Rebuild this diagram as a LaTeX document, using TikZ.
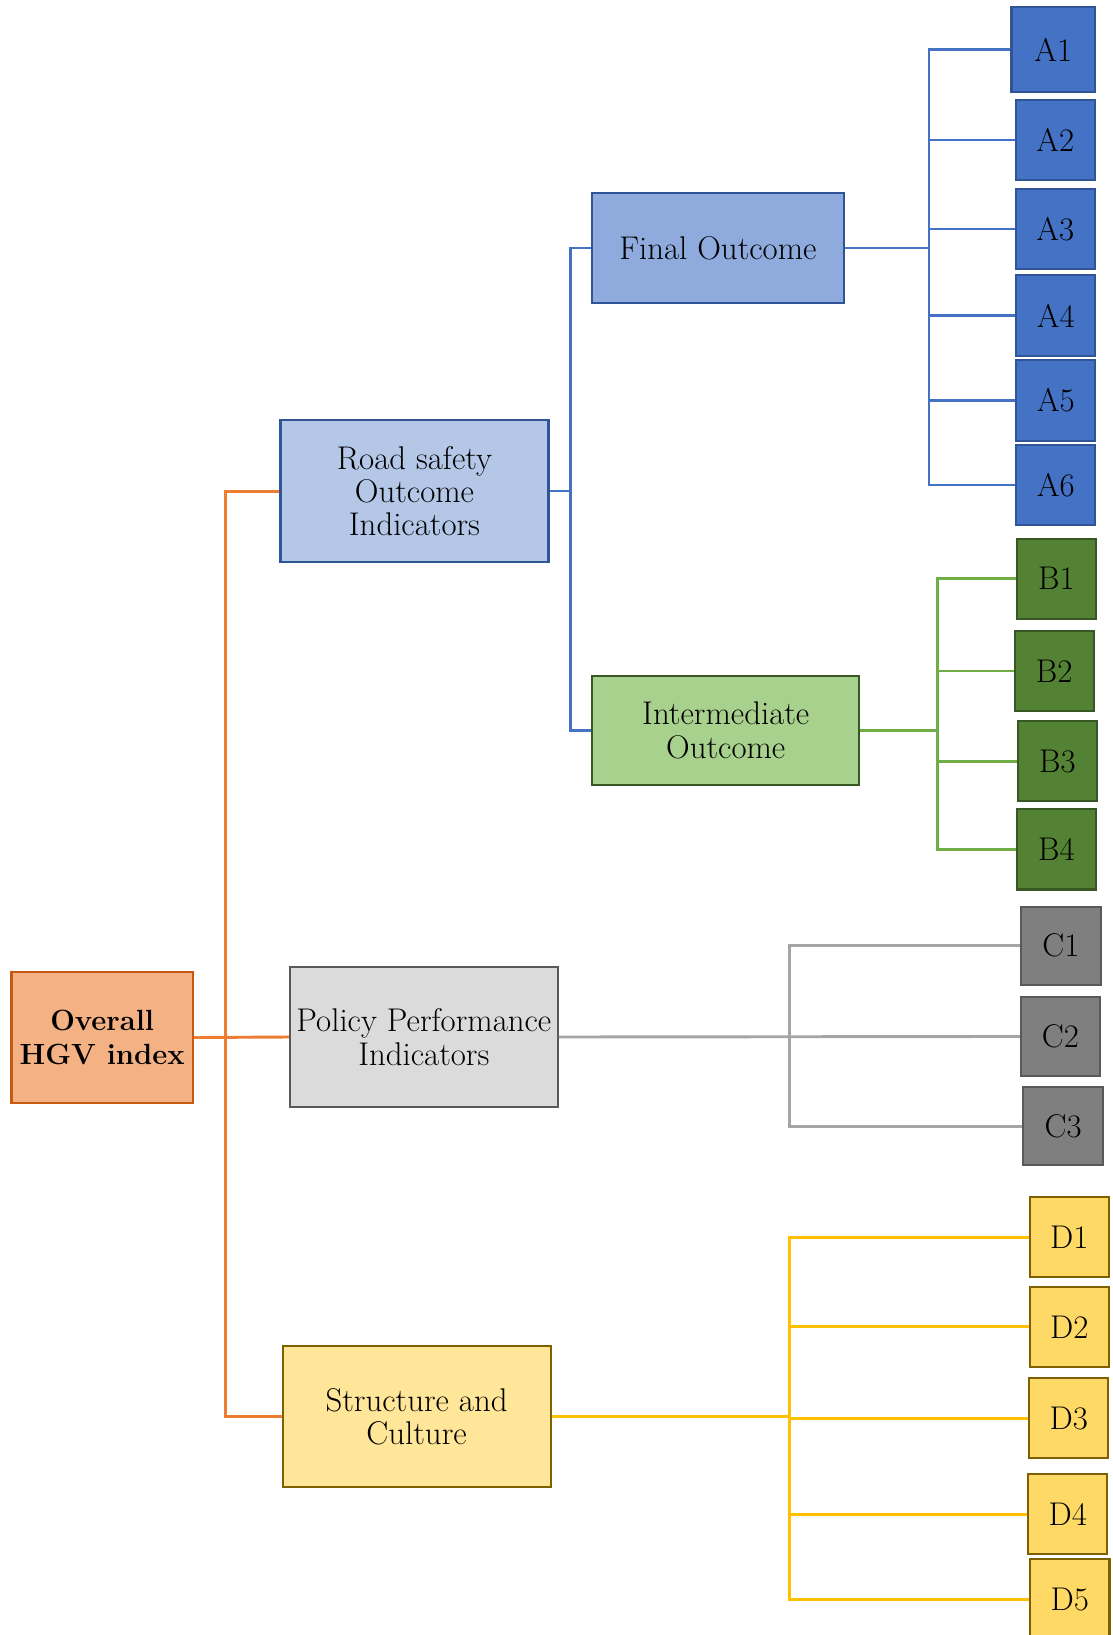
\documentclass[tikz,border=0pt]{standalone}
\usepackage{fontspec}
\definecolor{orangeL}{HTML}{ED7D31}
\definecolor{blueL}{HTML}{4472C4}
\definecolor{greenL}{HTML}{70AD47}
\definecolor{grayL}{HTML}{A5A5A5}
\definecolor{yellowL}{HTML}{FFC000}
\definecolor{ovF}{HTML}{F4B183}
\definecolor{ovD}{HTML}{C55A11}
\definecolor{rsF}{HTML}{B4C7E7}
\definecolor{blD}{HTML}{2F5597}
\definecolor{psF}{HTML}{DBDBDB}
\definecolor{gyD}{HTML}{595959}
\definecolor{scF}{HTML}{FFE699}
\definecolor{ylD}{HTML}{7F6000}
\definecolor{foF}{HTML}{8FAADC}
\definecolor{ioF}{HTML}{A9D18E}
\definecolor{grD}{HTML}{385723}
\definecolor{aF}{HTML}{4472C4}
\definecolor{bF}{HTML}{548235}
\definecolor{cF}{HTML}{7F7F7F}
\definecolor{dF}{HTML}{FFD966}
\begin{document}
\begin{tikzpicture}[x=1pt,y=-1pt,
  box/.style={draw,line width=2pt,inner sep=0pt,align=center,font=\fontsize{31.5}{32}\selectfont},
  leaf/.style={box,minimum width=76pt,minimum height=77pt},
  oline/.style={draw=orangeL,line width=2.8pt},
  bline/.style={draw=blueL,line width=2.4pt},
  gline/.style={draw=greenL,line width=2.8pt},
  kline/.style={draw=grayL,line width=2.8pt},
  yline/.style={draw=yellowL,line width=2.8pt},
  aleaf/.style={leaf,fill=aF,draw=blD},
  bleaf/.style={leaf,fill=bF,draw=grD},
  cleaf/.style={leaf,fill=cF,draw=gyD},
  dleaf/.style={leaf,fill=dF,draw=ylD}]
\useasboundingbox (0,0) rectangle (1067,1568);
% main boxes
\node[box,fill=ovF,draw=ovD,minimum width=174pt,minimum height=126pt,font=\fontsize{28}{32}\selectfont\bfseries] (ov) at (98,995) {Overall\\HGV index};
\node[box,fill=rsF,draw=blD,minimum width=257pt,minimum height=136pt] (rs) at (397.5,471) {Road safety\\Outcome\\Indicators};
\node[box,fill=psF,draw=gyD,minimum width=257pt,minimum height=135pt] (ps) at (406.5,994.5) {Policy Performance\\Indicators};
\node[box,fill=scF,draw=ylD,minimum width=257pt,minimum height=135pt] (sc) at (399.5,1358.5) {Structure and\\Culture};
\node[box,fill=foF,draw=blD,minimum width=241pt,minimum height=106pt] (fo) at (688.5,238) {Final Outcome};
\node[box,fill=ioF,draw=grD,minimum width=256pt,minimum height=105pt] (io) at (696,700.5) {Intermediate\\Outcome};
% leaves
\node[aleaf,minimum width=80pt,minimum height=81pt] (A1) at (1010,47.5) {A1};
\node[aleaf] (A2) at (1012,134.5) {A2};
\node[aleaf] (A3) at (1012,219.5) {A3};
\node[aleaf] (A4) at (1012.5,302.5) {A4};
\node[aleaf] (A5) at (1012.5,384) {A5};
\node[aleaf] (A6) at (1012.5,465) {A6};
\node[bleaf] (B1) at (1013,555) {B1};
\node[bleaf] (B2) at (1011,643.5) {B2};
\node[bleaf] (B3) at (1014,730) {B3};
\node[bleaf] (B4) at (1013,814.5) {B4};
\node[cleaf,minimum height=75pt] (C1) at (1017.5,907) {C1};
\node[cleaf,minimum height=75pt] (C2) at (1017,994) {C2};
\node[cleaf,minimum height=75pt] (C3) at (1019.5,1080) {C3};
\node[dleaf] (D1) at (1025.5,1186.5) {D1};
\node[dleaf] (D2) at (1025.5,1272.5) {D2};
\node[dleaf] (D3) at (1025,1360) {D3};
\node[dleaf] (D4) at (1024,1452) {D4};
\node[dleaf] (D5) at (1026,1534) {D5};
% trunk coordinates
\coordinate (ot) at (216,0);
\coordinate (bt) at (547,0);
\coordinate (at) at (891,0);
\coordinate (gt) at (899,0);
\coordinate (kt) at (757,0);
\coordinate (yt) at (757,0);
% orange
\draw[oline] (rs.west) -| (sc.west -| ot) -- (sc.west);
\draw[oline] (ov.east) -- (ps.west);
% blue level 2
\draw[bline] (fo.west) -| (io.west -| bt) -- (io.west);
\draw[bline] (rs.east) -- (rs.east -| bt);
% A
\draw[bline] (A1.west) -| (A6.west -| at) -- (A6.west);
\foreach \n in {A2,A3,A4,A5} \draw[bline] (\n.west) -- (\n.west -| at);
\draw[bline] (fo.east) -- (fo.east -| at);
% B
\draw[gline] (B1.west) -| (B4.west -| gt) -- (B4.west);
\foreach \n in {B2,B3} \draw[gline] (\n.west) -- (\n.west -| gt);
\draw[gline] (io.east) -- (io.east -| gt);
% C
\draw[kline] (C1.west) -| (C3.west -| kt) -- (C3.west);
\draw[kline] (ps.east) -- (C2.west);
% D
\draw[yline] (D1.west) -| (D5.west -| yt) -- (D5.west);
\foreach \n in {D2,D3,D4} \draw[yline] (\n.west) -- (\n.west -| yt);
\draw[yline] (sc.east) -- (sc.east -| yt);
\end{tikzpicture}
\end{document}
